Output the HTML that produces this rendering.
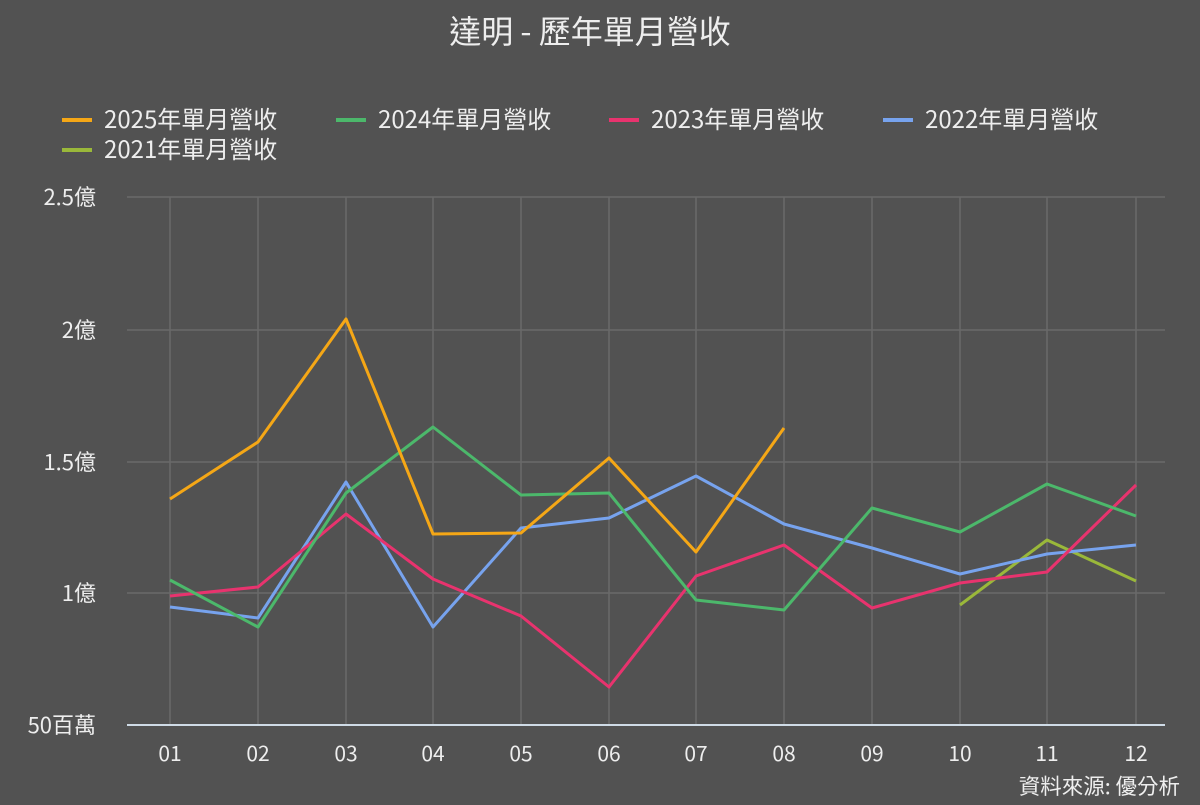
<!DOCTYPE html>
<html><head><meta charset="utf-8"><style>
html,body{margin:0;padding:0;background:#525252;}
svg text{font-family:"Noto Sans CJK TC","Liberation Sans",sans-serif;fill:#eeeeee;}
</style></head><body>
<svg width="1200" height="800" viewBox="0 0 1200 800" xmlns="http://www.w3.org/2000/svg">
<rect width="1200" height="800" fill="#525252"/>
<text x="590" y="43" font-size="32" text-anchor="middle">達明 - 歷年單月營收</text>
<g font-size="24">
<line x1="62" y1="120" x2="92" y2="120" stroke="#f5a716" stroke-width="4"/><text x="104" y="128">2025年單月營收</text>
<line x1="336" y1="120" x2="366" y2="120" stroke="#4cb86b" stroke-width="4"/><text x="378" y="128">2024年單月營收</text>
<line x1="609" y1="120" x2="639" y2="120" stroke="#e8336e" stroke-width="4"/><text x="651" y="128">2023年單月營收</text>
<line x1="883" y1="120" x2="913" y2="120" stroke="#77a3ee" stroke-width="4"/><text x="925" y="128">2022年單月營收</text>
<line x1="62" y1="150" x2="92" y2="150" stroke="#9ab83a" stroke-width="4"/><text x="104" y="158">2021年單月營收</text>
</g>
<g stroke="#6a6a6a" stroke-width="1.5">
<line x1="127" y1="197" x2="1165" y2="197"/>
<line x1="127" y1="330" x2="1165" y2="330"/>
<line x1="127" y1="462" x2="1165" y2="462"/>
<line x1="127" y1="593" x2="1165" y2="593"/>
<line x1="170" y1="197" x2="170" y2="725"/><line x1="258" y1="197" x2="258" y2="725"/>
<line x1="346" y1="197" x2="346" y2="725"/><line x1="433" y1="197" x2="433" y2="725"/>
<line x1="521" y1="197" x2="521" y2="725"/><line x1="609" y1="197" x2="609" y2="725"/>
<line x1="696" y1="197" x2="696" y2="725"/><line x1="784" y1="197" x2="784" y2="725"/>
<line x1="872" y1="197" x2="872" y2="725"/><line x1="960" y1="197" x2="960" y2="725"/>
<line x1="1047" y1="197" x2="1047" y2="725"/><line x1="1136" y1="197" x2="1136" y2="725"/>
</g>
<line x1="127" y1="725" x2="1165" y2="725" stroke="#cfdbe6" stroke-width="2"/>
<g font-size="22" text-anchor="end">
<text x="96" y="205">2.5億</text><text x="96" y="338">2億</text><text x="96" y="470">1.5億</text><text x="96" y="601">1億</text><text x="96" y="733">50百萬</text>
</g>
<g font-size="21" text-anchor="middle">
<text x="170" y="761">01</text><text x="258" y="761">02</text><text x="346" y="761">03</text><text x="433" y="761">04</text>
<text x="521" y="761">05</text><text x="609" y="761">06</text><text x="696" y="761">07</text><text x="784" y="761">08</text>
<text x="872" y="761">09</text><text x="960" y="761">10</text><text x="1047" y="761">11</text><text x="1136" y="761">12</text>
</g>
<g fill="none" stroke-width="3" stroke-linejoin="round">
<polyline stroke="#9ab83a" points="960,605 1047,540 1136,581"/>
<polyline stroke="#77a3ee" points="170,607 258,618 346,482 433,627 521,528 609,518 696,476 784,524 872,548 960,574 1047,554 1136,545"/>
<polyline stroke="#e8336e" points="170,596 258,587 346,514 433,579 521,616 609,687 696,576 784,545 872,608 960,583 1047,572 1136,485"/>
<polyline stroke="#4cb86b" points="170,580 258,627 346,493 433,427 521,495 609,493 696,600 784,610 872,508 960,532 1047,484 1136,516"/>
<polyline stroke="#f5a716" points="170,499 258,442 346,319 433,534 521,533 609,458 696,552 784,428"/>
</g>
<text x="1180" y="794" font-size="21.5" text-anchor="end">資料來源: 優分析</text>
</svg>
</body></html>
